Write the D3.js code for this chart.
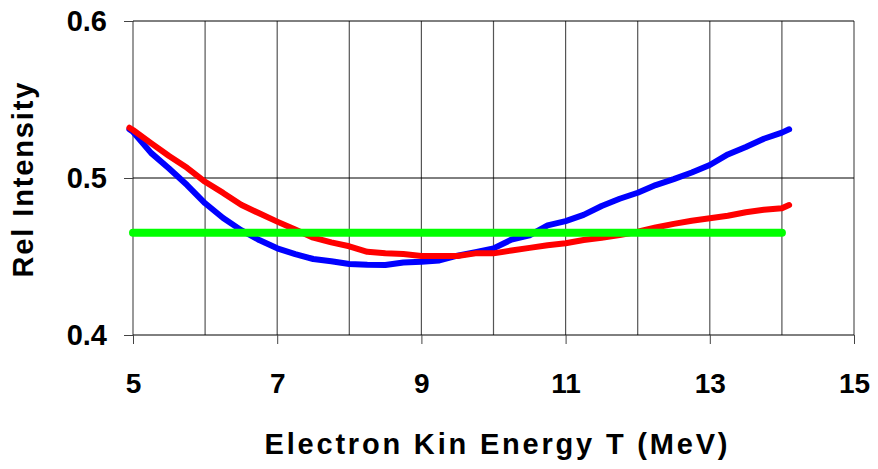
<!DOCTYPE html>
<html>
<head>
<meta charset="utf-8">
<script src="https://cdn.jsdelivr.net/npm/d3@7"></script>
<style>
  body { margin: 0; background: #fff; }
  svg { display: block; font-family: "Liberation Sans", Arial, sans-serif; font-weight: bold; }
</style>
</head>
<body>
<div id="chart"></div>
<script>
(function () {
  const width = 878;
  const height = 469;

  // energy T (MeV)
  const energy = [4.95, 5, 5.25, 5.5, 5.75, 6, 6.25, 6.5, 6.75, 7, 7.25, 7.5, 7.75, 8, 8.25, 8.5, 8.75,
    9, 9.25, 9.5, 9.75, 10, 10.25, 10.5, 10.75, 11, 11.25, 11.5, 11.75, 12, 12.25, 12.5, 12.75,
    13, 13.25, 13.5, 13.75, 14, 14.1];
  const blueValues = [0.531, 0.5295, 0.516, 0.506, 0.4955, 0.4839, 0.4745, 0.4668, 0.4605, 0.4552,
    0.4515, 0.4484, 0.447, 0.4452, 0.4447, 0.4446, 0.4462, 0.4467, 0.4475, 0.4505, 0.4528, 0.4552,
    0.4608, 0.4635, 0.4698, 0.4725, 0.4765, 0.4822, 0.4868, 0.4906, 0.4955, 0.4993, 0.5035, 0.5083,
    0.515, 0.5198, 0.525, 0.5289, 0.531];
  const redValues = [0.532, 0.5306, 0.5222, 0.514, 0.5065, 0.4976, 0.4905, 0.483, 0.4775, 0.4722,
    0.4672, 0.462, 0.459, 0.4565, 0.453, 0.452, 0.4516, 0.4503, 0.4503, 0.4503, 0.452, 0.452,
    0.4538, 0.4555, 0.4572, 0.4584, 0.4605, 0.462, 0.4637, 0.4658, 0.4685, 0.4708, 0.4728, 0.4743,
    0.476, 0.4782, 0.4798, 0.4807, 0.4828];
  const greenEnergy = [5, 14];
  const greenValues = [0.4652, 0.4652];

  const xTicks = [5, 7, 9, 11, 13, 15];
  const xGrid = [5, 6, 7, 8, 9, 10, 11, 12, 13, 14, 15];
  const yTicks = [0.4, 0.5, 0.6];

  const margin = { top: 21, right: 24, bottom: 134, left: 133 };

  const svg = d3.select("#chart").append("svg")
    .attr("width", width)
    .attr("height", height);

  const x = d3.scaleLinear().domain([5, 15]).range([margin.left, width - margin.right]);
  const y = d3.scaleLinear().domain([0.4, 0.6]).range([height - margin.bottom, margin.top]);

  // grid
  svg.append("g").selectAll("line").data(xGrid).enter().append("line")
    .attr("x1", (d) => x(d)).attr("x2", (d) => x(d))
    .attr("y1", y(0.6)).attr("y2", y(0.4))
    .style("stroke", "#555").style("stroke-width", "1.2px");
  svg.append("g").selectAll("line").data(yTicks).enter().append("line")
    .attr("x1", x(5)).attr("x2", x(15))
    .attr("y1", (d) => y(d)).attr("y2", (d) => y(d))
    .style("stroke", "#000").style("stroke-width", "1px");

  // axes
  const xAxis = svg.append("g")
    .attr("transform", `translate(0,${y(0.4)})`)
    .call(d3.axisBottom(x).tickValues(xTicks).tickSize(9).tickPadding(29).tickFormat(d3.format("d")));
  const yAxis = svg.append("g")
    .attr("transform", `translate(${x(5)},0)`)
    .call(d3.axisLeft(y).tickValues(yTicks).tickSize(9).tickPadding(17).tickFormat(d3.format(".1f")));

  [xAxis, yAxis].forEach((a) => {
    a.select(".domain").remove();
    a.selectAll(".tick line").style("stroke", "#444").style("stroke-width", "1px");
    a.selectAll(".tick text").style("fill", "#000")
      .style("font-family", '"Liberation Sans", Arial, sans-serif')
      .style("font-weight", "bold");
  });
  xAxis.selectAll(".tick text").style("font-size", "28px");
  yAxis.selectAll(".tick text").style("font-size", "29px");

  // series
  const line = d3.line().x((d) => x(d[0])).y((d) => y(d[1]));
  const series = [
    { color: "#0000ff", w: 6, pts: energy.map((e, i) => [e, blueValues[i]]) },
    { color: "#ff0000", w: 6, pts: energy.map((e, i) => [e, redValues[i]]) },
    { color: "#00ff00", w: 8, pts: greenEnergy.map((e, i) => [e, greenValues[i]]) },
  ];
  series.forEach((s) => {
    svg.append("path")
      .attr("d", line(s.pts))
      .style("fill", "none")
      .style("stroke", s.color)
      .style("stroke-width", s.w + "px")
      .style("stroke-linecap", "round")
      .style("stroke-linejoin", "round");
  });

  // titles
  svg.append("text")
    .attr("x", 496).attr("y", 454)
    .attr("text-anchor", "middle")
    .attr("textLength", 463)
    .attr("lengthAdjust", "spacing")
    .style("font-size", "29px")
    .text("Electron Kin Energy T (MeV)");

  svg.append("text")
    .attr("transform", "translate(33,180) rotate(-90)")
    .attr("text-anchor", "middle")
    .attr("textLength", 195)
    .attr("lengthAdjust", "spacing")
    .style("font-size", "29px")
    .text("Rel Intensity");
})();
</script>
</body>
</html>
